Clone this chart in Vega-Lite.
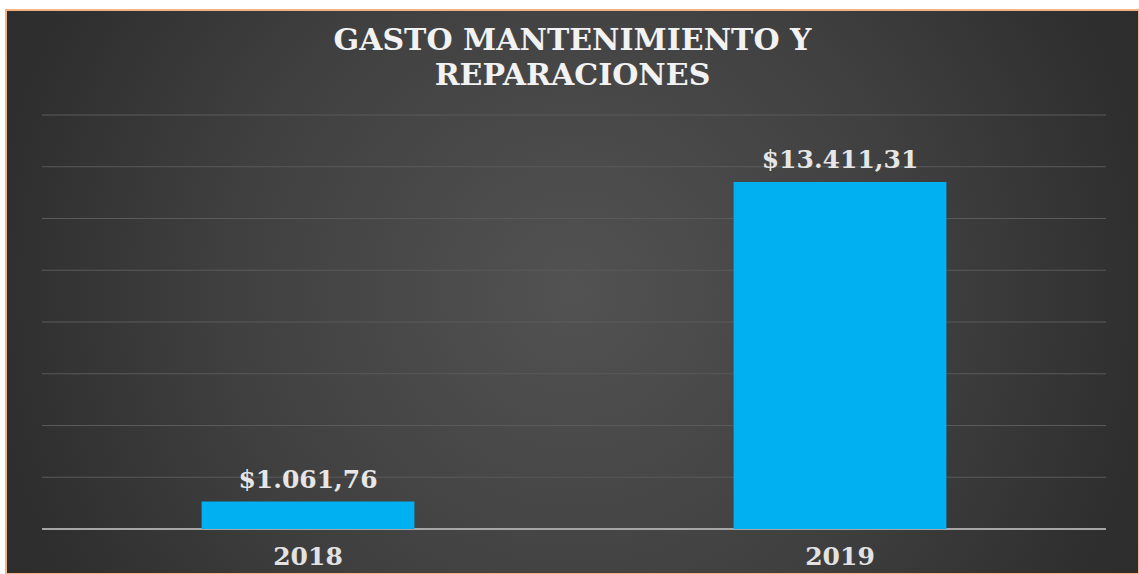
{
  "$schema": "https://vega.github.io/schema/vega-lite/v6.json",
  "width": 1133,
  "height": 564,
  "autosize": {"type": "none"},
  "padding": {"left": 6, "top": 10, "right": 0, "bottom": 0},
  "background": "#ffffff",
  "title": {
    "text": ["GASTO MANTENIMIENTO Y", "REPARACIONES"],
    "anchor": "middle",
    "frame": "group",
    "orient": "top",
    "baseline": "top",
    "offset": -81,
    "font": "DejaVu Serif",
    "fontWeight": "bold",
    "fontSize": 30,
    "lineHeight": 35,
    "color": "#f2f2f2"
  },
  "datasets": {
    "gasto": [
      {"anio": "2018", "gasto": 1061.76},
      {"anio": "2019", "gasto": 13411.31}
    ],
    "grid": [
      {"v": 2000}, {"v": 4000}, {"v": 6000}, {"v": 8000},
      {"v": 10000}, {"v": 12000}, {"v": 14000}, {"v": 16000}
    ],
    "base": [{"v": 0}]
  },
  "data": {"name": "gasto"},
  "encoding": {
    "x": {
      "field": "anio",
      "type": "nominal",
      "scale": {"domain": ["2018", "2019"], "range": [36, 1100], "paddingInner": 0, "paddingOuter": 0},
      "axis": {
        "title": null,
        "orient": "bottom",
        "offset": -45,
        "domain": false,
        "ticks": false,
        "grid": false,
        "labelAngle": 0,
        "labelPadding": 15,
        "labelFont": "DejaVu Serif",
        "labelFontWeight": "bold",
        "labelFontSize": 25,
        "labelColor": "#e2e2e2"
      }
    }
  },
  "layer": [
    {
      "data": {"name": "grid"},
      "mark": {"type": "rule", "color": "#5a5a5a", "strokeWidth": 1},
      "encoding": {
        "x": {"datum": "2018", "bandPosition": 0},
        "x2": {"datum": "2019", "bandPosition": 1},
        "y": {"field": "v", "type": "quantitative", "scale": {"domain": [0, 16000], "range": [519, 105], "nice": false, "zero": false}, "axis": null}
      }
    },
    {
      "data": {"name": "base"},
      "mark": {"type": "rule", "color": "#a6a6a6", "strokeWidth": 2},
      "encoding": {
        "x": {"datum": "2018", "bandPosition": 0},
        "x2": {"datum": "2019", "bandPosition": 1},
        "y": {"field": "v", "type": "quantitative"}
      }
    },
    {
      "mark": {"type": "bar", "color": "#00b0f0", "width": {"band": 0.4}},
      "encoding": {
        "y": {"field": "gasto", "type": "quantitative"}
      }
    },
    {
      "mark": {"type": "text", "baseline": "alphabetic", "dy": -14, "font": "DejaVu Serif", "fontWeight": "bold", "fontSize": 25, "color": "#e6e6e6"},
      "encoding": {
        "y": {"field": "gasto", "type": "quantitative"},
        "text": {"field": "gasto", "type": "quantitative", "format": "$,.2f"}
      }
    }
  ],
  "config": {
    "locale": {"number": {"decimal": ",", "thousands": ".", "grouping": [3], "currency": ["$", ""]}},
    "view": {
      "stroke": "#f4b183",
      "strokeWidth": 2,
      "fill": {
        "gradient": "radial",
        "x1": 0.5, "y1": 0.5, "r1": 0,
        "x2": 0.5, "y2": 0.5, "r2": 0.75,
        "stops": [
          {"offset": 0, "color": "#525252"},
          {"offset": 0.4, "color": "#404040"},
          {"offset": 0.67, "color": "#2f2f2f"},
          {"offset": 1, "color": "#262626"}
        ]
      }
    }
  }
}
